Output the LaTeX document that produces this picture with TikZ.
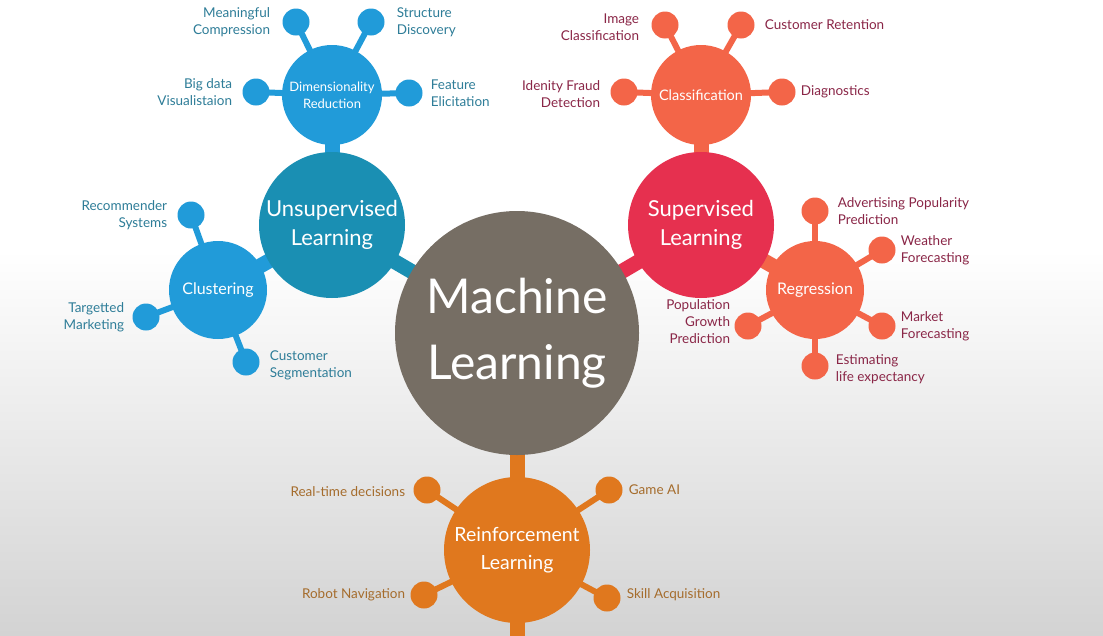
\documentclass[tikz,border=0pt]{standalone}
\usepackage{fontspec}
\setmainfont{Lato}
\usetikzlibrary{positioning}
\definecolor{mlgray}{HTML}{766E64}
\definecolor{ulteal}{HTML}{1A8FB3}
\definecolor{skyblue}{HTML}{219BD9}
\definecolor{slred}{HTML}{E6304F}
\definecolor{coral}{HTML}{F36548}
\definecolor{rlorange}{HTML}{E0781E}
\definecolor{bluetext}{HTML}{2E7D98}
\definecolor{redtext}{HTML}{8A2647}
\definecolor{orangetext}{HTML}{A56C2C}
\definecolor{bggray}{HTML}{D3D3D3}
\pgfdeclarelayer{back}
\pgfdeclarelayer{stems}
\pgfsetlayers{back,stems,main}

\tikzset{
  hub/.style={circle, fill=mlgray, text=white, minimum size=244pt, inner sep=0pt,
    align=center, font=\fontsize{48}{66}\selectfont},
  area/.style={circle, fill=#1, text=white, minimum size=146pt, inner sep=0pt,
    align=center, font=\fontsize{22}{29}\selectfont},
  branch/.style={circle, fill=#1, text=white, minimum size=98pt, inner sep=0pt,
    align=center, font=\fontsize{16}{19}\selectfont},
  leaf/.style={circle, fill=#1, minimum size=27pt, inner sep=0pt},
  lbl/.style={inner sep=0pt, text=#1, font=\fontsize{13.5}{17}\selectfont},
  lbll/.style={lbl=#1, align=right},
  lblr/.style={lbl=#1, align=left},
  stem/.style={draw=#1, line width=15pt},
  twig/.style={draw=#1, line width=6pt},
  node distance=12pt
}

\begin{document}
\begin{tikzpicture}[x=1pt, y=-1pt]
  \useasboundingbox (0,0) rectangle (1103,635);
  \begin{pgfonlayer}{back}
    \fill[white] (0,0) rectangle (1103,250);
    \shade[top color=white, bottom color=bggray] (0,250) rectangle (1103,635);
  \end{pgfonlayer}

  % centre and the four areas
  \node[hub] (ml) at (517,333) {Machine\\Learning};
  \node[area=ulteal] (ul) at (332,225) {Unsupervised\\Learning};
  \node[area=slred] (sl) at (701,225) {Supervised\\Learning};
  \node[area=rlorange, font=\fontsize{19.5}{28}\selectfont] (rl) at (517,550) {Reinforcement\\Learning};
  \coordinate (rlend) at (517,645);

  % unsupervised branches
  \node[branch=skyblue, minimum size=100pt, font=\fontsize{13}{17}\selectfont] (dr) at (332,95) {Dimensionality\\Reduction};
  \node[branch=skyblue] (cl) at (218,290) {Clustering};
  \node[leaf=skyblue] (mc) at (296,22) {};
  \node[leaf=skyblue] (sd) at (371,22) {};
  \node[leaf=skyblue] (bd) at (256,92) {};
  \node[leaf=skyblue] (fe) at (409,93) {};
  \node[leaf=skyblue] (rs) at (191,215) {};
  \node[leaf=skyblue] (tm) at (146,317) {};
  \node[leaf=skyblue] (cs) at (246,362) {};
  \node[lbll=bluetext, left=of mc] (mct) {Meaningful\\Compression};
  \node[lblr=bluetext, right=of sd] (sdt) {Structure\\Discovery};
  \node[lbll=bluetext, left=10pt of bd] (bdt) {Big data\\Visualistaion};
  \node[lblr=bluetext, right=8pt of fe] (fet) {Feature\\Elicitation};
  \node[lbll=bluetext, left=10pt of rs] (rst) {Recommender\\Systems};
  \node[lbll=bluetext, left=8pt of tm] (tmt) {Targetted\\Marketing};
  \node[lblr=bluetext, right=10pt of cs, yshift=-3pt] (cst) {Customer\\Segmentation};

  % supervised branches
  \node[branch=coral, minimum size=100pt, font=\fontsize{14.5}{17}\selectfont] (cf) at (701,95) {Classification};
  \node[branch=coral] (rg) at (815,290) {Regression};
  \node[leaf=coral] (ic) at (665,25) {};
  \node[leaf=coral] (cr) at (741,25) {};
  \node[leaf=coral] (id) at (624,92) {};
  \node[leaf=coral] (dg) at (782,92) {};
  \node[leaf=coral] (ap) at (815,211) {};
  \node[leaf=coral] (wf) at (882,250) {};
  \node[leaf=coral] (mf) at (882,326) {};
  \node[leaf=coral] (le) at (815,366) {};
  \node[leaf=coral] (pg) at (748,326) {};
  \node[lbll=redtext, left=of ic, yshift=-2pt] (ict) {Image\\Classification};
  \node[lblr=redtext, right=10pt of cr] (crt) {Customer Retention};
  \node[lbll=redtext, left=10pt of id, yshift=-2pt] (idt) {Idenity Fraud\\Detection};
  \node[lblr=redtext, right=5pt of dg] (dgt) {Diagnostics};
  \node[lblr=redtext, right=9pt of ap] (apt) {Advertising Popularity\\Prediction};
  \node[lblr=redtext, right=5pt of wf] (wft) {Weather\\Forecasting};
  \node[lblr=redtext, right=5pt of mf] (mft) {Market\\Forecasting};
  \node[lblr=redtext, right=7pt of le, yshift=-3pt] (let) {Estimating\\life expectancy};
  \node[lbll=redtext, left=4pt of pg, yshift=4pt] (pgt) {Population\\Growth\\Prediction};

  % reinforcement leaves
  \node[leaf=rlorange] (rt) at (427,490) {};
  \node[leaf=rlorange] (ga) at (609,490) {};
  \node[leaf=rlorange] (rn) at (424,595) {};
  \node[leaf=rlorange] (sa) at (607,598) {};
  \node[lbll=orangetext, left=8pt of rt, yshift=-2pt] (rtt) {Real-time decisions};
  \node[lblr=orangetext, right=6pt of ga] (gat) {Game AI};
  \node[lbll=orangetext, left=5pt of rn] (rnt) {Robot Navigation};
  \node[lblr=orangetext, right=6pt of sa, yshift=3pt] (sat) {Skill Acquisition};

  \begin{pgfonlayer}{stems}
    \draw[stem=ulteal] (ml.center) -- (ul.center);
    \draw[stem=slred] (ml.center) -- (sl.center);
    \draw[stem=rlorange] (ml.center) -- (rl.center) -- (rlend);
    \draw[stem=skyblue] (ul.center) -- (dr.center);
    \draw[stem=skyblue] (ul.center) -- (cl.center);
    \draw[stem=coral] (sl.center) -- (cf.center);
    \draw[stem=coral] (sl.center) -- (rg.center);
    \foreach \lf in {mc,sd,bd,fe} \draw[twig=skyblue] (dr.center) -- (\lf.center);
    \foreach \lf in {rs,tm,cs} \draw[twig=skyblue] (cl.center) -- (\lf.center);
    \foreach \lf in {ic,cr,id,dg} \draw[twig=coral] (cf.center) -- (\lf.center);
    \foreach \lf in {ap,wf,mf,le,pg} \draw[twig=coral] (rg.center) -- (\lf.center);
    \foreach \lf in {rt,ga,rn,sa} \draw[twig=rlorange] (rl.center) -- (\lf.center);
  \end{pgfonlayer}
\end{tikzpicture}
\end{document}
